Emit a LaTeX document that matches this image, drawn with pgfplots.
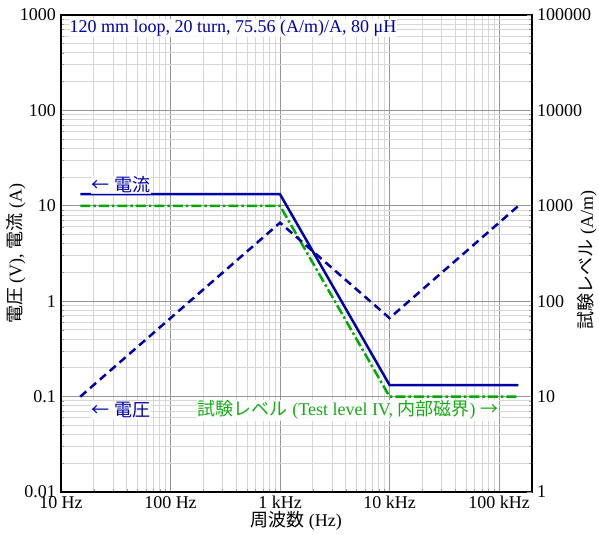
\documentclass[border=0pt]{standalone}
\usepackage{fontspec}
\setmainfont{Liberation Serif}
\newfontfamily\cjk{Noto Sans CJK JP}
\usepackage{pgfplots}
\pgfplotsset{compat=1.18}
\definecolor{lblue}{RGB}{0,0,170}
\definecolor{lgreen}{RGB}{0,170,0}
\definecolor{tgreen}{RGB}{25,170,25}
\definecolor{majg}{RGB}{150,150,150}
\definecolor{ming}{RGB}{215,215,215}
\begin{document}
\fontsize{18bp}{21bp}\selectfont
\begin{tikzpicture}
\path[use as bounding box] (-61bp,-43bp) rectangle (538bp,492bp);
\begin{axis}[
  at={(0,0)}, anchor=south west,
  scale only axis, width=471bp, height=477bp,
  xmode=log, ymode=log,
  xmin=10, xmax=200000, ymin=0.01, ymax=1000,
  axis line style={line width=1.5bp, black},
  xtick={10,100,1000,10000,100000},
  xticklabels={10 Hz,100 Hz,1 kHz,10 kHz,100 kHz},
  ytick={0.01,0.1,1,10,100,1000},
  yticklabels={0.01,0.1,1,10,100,1000},
  ytick pos=left, xtick pos=bottom,
  tick align=inside,
  major tick length=5bp, minor tick length=3bp,
  tick style={majg, line width=0.8bp},
  grid=both,
  major grid style={majg, line width=1bp},
  minor grid style={ming, line width=1bp},
  xticklabel style={inner sep=2bp, yshift=-2bp},
  yticklabel style={inner sep=2bp, xshift=-3bp},
  xlabel={{\cjk 周波数} (Hz)},
  ylabel={{\cjk 電圧} (V), {\cjk 電流} (A)},
  xlabel style={at={(axis description cs:0.499,-0.061)}, anchor=center},
  ylabel style={at={(axis description cs:-0.0955,0.499)}, anchor=center},
  clip=false,
]
\addplot[lblue, line width=2.5bp] coordinates {(15,13.23) (1000,13.23) (10000,0.1323) (150000,0.1323)};
\addplot[lgreen, line width=2.5bp, dash pattern=on 10bp off 3bp on 2.5bp off 3bp] coordinates {(15,10) (1000,10) (10000,0.1) (150000,0.1)};
\addplot[lblue, line width=2.5bp, dash pattern=on 8bp off 5bp] coordinates {(15,0.0998) (1000,6.65) (10000,0.665) (150000,9.97)};
\node[anchor=west, text=lblue, fill=white, fill opacity=0.85, text opacity=1, inner sep=1bp] at (axis cs:11.7,731) {120 mm loop, 20 turn, 75.56 (A/m)/A, 80 μH};
\node[anchor=west, text=lblue, fill=white, fill opacity=0.85, text opacity=1, inner sep=1bp] at (axis cs:18.6,16.5) {{\cjk ←} {\cjk 電流}};
\node[anchor=west, text=lblue, fill=white, fill opacity=0.85, text opacity=1, inner sep=1bp] at (axis cs:18.6,0.072) {{\cjk ←} {\cjk 電圧}};
\node[anchor=west, text=tgreen, fill=white, fill opacity=0.85, text opacity=1, inner sep=1bp] at (axis cs:173,0.072) {{\cjk 試験レベル} (Test level IV, {\cjk 内部磁界}) {\cjk →}};
\end{axis}
\begin{axis}[
  at={(0,0)}, anchor=south west,
  scale only axis, width=471bp, height=477bp,
  xmode=log, ymode=log,
  xmin=10, xmax=200000, ymin=1, ymax=100000,
  axis x line=none,
  axis y line*=right,
  axis line style={line width=1.5bp, black},
  ytick={1,10,100,1000,10000,100000},
  yticklabels={1,10,100,1000,10000,100000},
  tick align=inside,
  major tick length=5bp, minor tick length=3bp,
  tick style={majg, line width=0.8bp},
  yticklabel style={anchor=west, inner sep=2bp, xshift=3bp},
  ylabel={{\cjk 試験レベル} (A/m)},
  ylabel style={at={(axis description cs:1.117,0.486)}, anchor=center},
]
\end{axis}
\end{tikzpicture}
\end{document}
